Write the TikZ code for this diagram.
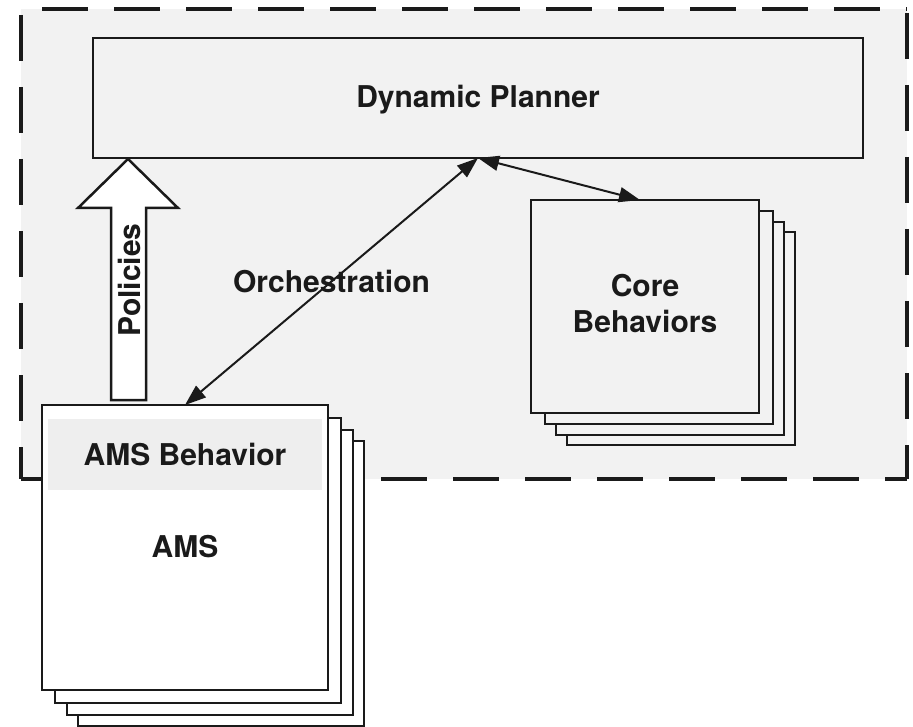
\documentclass[tikz,border=0pt]{standalone}
\usepackage{fontspec}
\setmainfont{TeX Gyre Heros}
\usetikzlibrary{arrows.meta}
\definecolor{bg}{HTML}{F2F2F2}
\definecolor{band}{HTML}{EEEEEE}
\definecolor{ink}{HTML}{1A1A1A}
\begin{document}
\begin{tikzpicture}[x=1pt,y=-1pt,
  lbl/.style={font=\fontsize{30}{36}\selectfont\bfseries, text=ink, inner sep=0pt, anchor=base},
  stackbox/.style={draw=ink, line width=2.5pt, inner sep=0pt, outer sep=0pt, anchor=north west},
  amsbox/.style={stackbox, fill=white, minimum width=286pt, minimum height=285pt},
  corebox/.style={stackbox, fill=bg, minimum width=228pt, minimum height=213pt},
  dashline/.style={draw=ink, line width=4pt, dash pattern=on 46pt off 26pt},
  conn/.style={draw=ink, line width=2pt, {Triangle[length=21pt,width=15pt]}-{Triangle[length=21pt,width=15pt]}}
]
\useasboundingbox (0,0) rectangle (913,727);
% dashed container
\fill[bg] (21,9) rectangle (907,479);
\draw[dashline, dash phase=51pt] (21,9) -- (907,9);
\draw[dashline, dash phase=66pt] (21,9) -- (21,479);
\draw[dashline, dash phase=68pt] (907,9) -- (907,479);
\draw[dashline, dash phase=0pt] (21,479) -- (907,479);

% dynamic planner
\node[stackbox, fill=bg, minimum width=770pt, minimum height=120pt] (planner) at (93,38) {};
\node[lbl] (plannertxt) at (478,108) {Dynamic Planner};

% core behaviors stack
\node[corebox] (core3) at (567,232) {};
\node[corebox] (core2) at (556,222) {};
\node[corebox] (core1) at (545,211) {};
\node[corebox] (core) at (531,200) {};
\node[lbl] (coretxtA) at (645,297) {Core};
\node[lbl] (coretxtB) at (645,333) {Behaviors};

% AMS stack
\node[amsbox] (ams3) at (78,441) {};
\node[amsbox] (ams2) at (67,430) {};
\node[amsbox] (ams1) at (55,418) {};
\node[amsbox] (ams) at (42,405) {};
\fill[band] (48,419) rectangle (322,490);
\node[lbl] (amsbehtxt) at (185,465) {AMS Behavior};
\node[lbl] (amstxt) at (185,557) {AMS};

% policies block arrow
\draw[draw=ink, line width=2.5pt, fill=white, line join=miter]
  (111,400) -- (111,208) -- (78,208) -- (128,159) -- (178,208) -- (146,208) -- (146,400) -- cycle;
\node[lbl, anchor=center, rotate=90] (policies) at (129,280) {\vphantom{P}Policies};

% connectors
\draw[conn] (ams.north) -- node[lbl, anchor=center, pos=0.5] (orch) {Orchestration} (planner.south);
\draw[conn] (planner.south) -- ([xshift=-5pt]core.north);
\end{tikzpicture}
\end{document}
